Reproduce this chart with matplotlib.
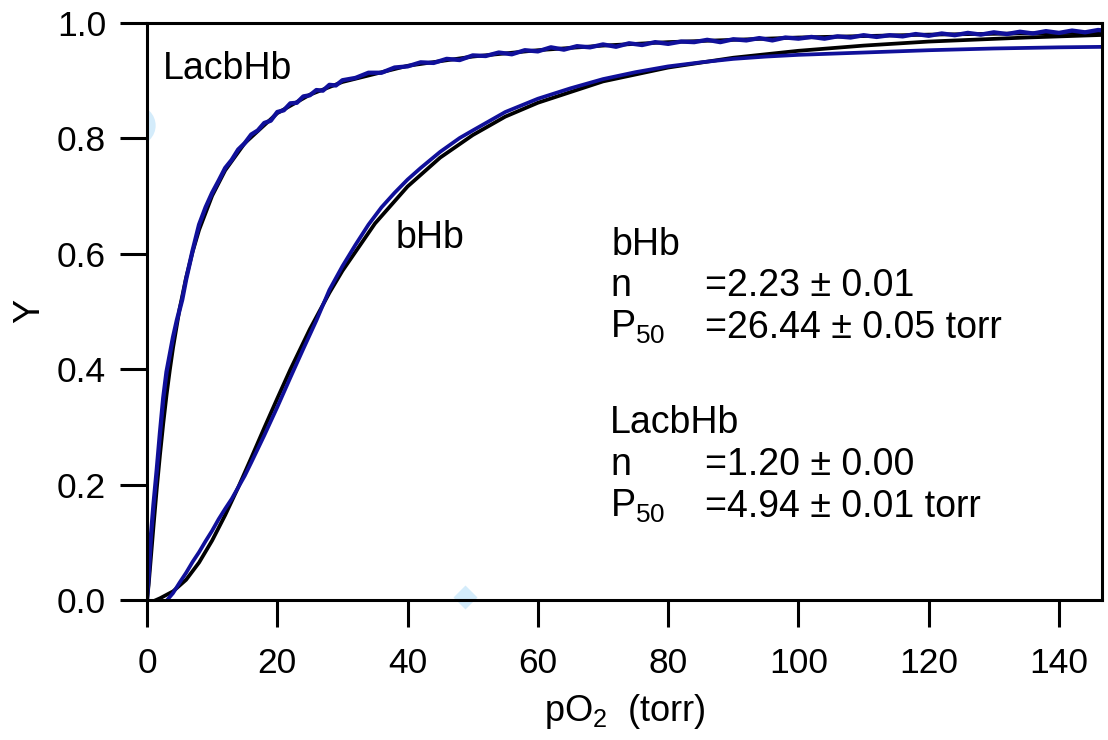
import matplotlib
matplotlib.use("Agg")
import matplotlib.pyplot as plt

plt.rcParams['font.family'] = ['Liberation Sans', 'DejaVu Sans']
plt.rcParams['mathtext.fontset'] = 'custom'
plt.rcParams['mathtext.rm'] = 'Liberation Sans'
plt.rcParams['mathtext.default'] = 'rm'

# ---- data ----
# LacbHb measured curve
lac_x = [0, 0.3, 0.6, 1.0, 1.5, 2.0, 2.5, 3.0, 3.5, 4.0, 4.6, 5.4, 6.0, 7.0, 8.0, 9.0,
         10, 11, 12, 13, 14, 15, 16, 17, 18, 19, 20, 21, 22, 23, 24, 25, 26, 27, 28, 29,
         30, 32, 34, 36, 38, 40, 42, 44, 46, 48, 50, 52, 54, 56, 58, 60, 62, 64, 66, 68,
         70, 72, 74, 76, 78, 80, 82, 84, 86, 88, 90, 92, 94, 96, 98, 100, 102, 104, 106,
         108, 110, 112, 114, 116, 118, 120, 122, 124, 126, 128, 130, 132, 134, 136, 138,
         140, 142, 144, 146, 148]
lac_y = [0, 0.05, 0.11, 0.165, 0.225, 0.29, 0.35, 0.395, 0.425, 0.455, 0.485, 0.52, 0.555,
         0.605, 0.65, 0.68,
         0.705, 0.726, 0.748, 0.762, 0.780, 0.791, 0.806, 0.813, 0.826, 0.830, 0.845, 0.848,
         0.860, 0.861, 0.872, 0.874, 0.883, 0.882, 0.892, 0.891,
         0.900, 0.904, 0.913, 0.913, 0.922, 0.924, 0.931, 0.930, 0.937, 0.935, 0.943, 0.942,
         0.948, 0.945, 0.952, 0.950, 0.957, 0.953, 0.959, 0.957,
         0.962, 0.958, 0.964, 0.961, 0.966, 0.963, 0.967, 0.966, 0.970, 0.966, 0.971, 0.969,
         0.973, 0.969, 0.974, 0.972, 0.975, 0.972, 0.976,
         0.974, 0.978, 0.975, 0.978, 0.976, 0.980, 0.977, 0.981, 0.978, 0.982, 0.979, 0.983,
         0.980, 0.984, 0.981, 0.985,
         0.982, 0.986, 0.983, 0.987, 0.985]

# LacbHb Hill fit (n=1.20, P50=4.94)
lacfit_x = [0, 0.25, 0.5, 0.75, 1, 1.5, 2, 2.5, 3, 3.5, 4, 5, 6, 7, 8, 10, 12, 15, 20, 25,
            30, 40, 50, 60, 70, 80, 100, 120, 148]
lacfit_y = [0, 0.026, 0.060, 0.094, 0.128, 0.193, 0.252, 0.306, 0.355, 0.398, 0.437, 0.504,
            0.558, 0.603, 0.641, 0.700, 0.744, 0.791, 0.843, 0.875, 0.897, 0.925, 0.941,
            0.952, 0.960, 0.966, 0.974, 0.979, 0.983]

# bHb measured curve
bhb_x = [3.1, 4, 5, 6, 7, 8, 9, 10, 11, 12, 13, 14, 15, 16, 18, 20, 22, 24, 26, 28, 30, 32,
         34, 36, 38, 40, 42, 45, 48, 50, 55, 60, 65, 70, 75, 80, 85, 90, 95, 100, 110, 120,
         130, 140, 148]
bhb_y = [0, 0.012, 0.030, 0.047, 0.066, 0.083, 0.102, 0.120, 0.140, 0.158, 0.175, 0.195,
         0.215, 0.238, 0.285, 0.334, 0.385, 0.435, 0.484, 0.537, 0.578, 0.615, 0.650, 0.680,
         0.705, 0.728, 0.748, 0.776, 0.800, 0.813, 0.845, 0.868, 0.886, 0.902, 0.914, 0.924,
         0.931, 0.937, 0.941, 0.944, 0.948, 0.952, 0.955, 0.957, 0.958]

# bHb Hill fit (n=2.23, P50=26.44)
bfit_x = [1.4, 2, 4, 6, 8, 10, 12, 14, 16, 18, 20, 22, 25, 28, 30, 35, 40, 45, 50, 55, 60,
          70, 80, 90, 100, 110, 120, 135, 148]
bfit_y = [0, 0.003, 0.015, 0.035, 0.065, 0.103, 0.147, 0.195, 0.246, 0.298, 0.349, 0.399,
          0.469, 0.532, 0.570, 0.652, 0.716, 0.766, 0.805, 0.837, 0.861, 0.898, 0.922, 0.939,
          0.951, 0.960, 0.967, 0.974, 0.979]

xticks = [0, 20, 40, 60, 80, 100, 120, 140]
yticks = [0.0, 0.2, 0.4, 0.6, 0.8, 1.0]

blue = '#10109a'
pale = '#d4ecfb'

fig = plt.figure(figsize=(11.08, 7.40), dpi=100)
ax = fig.add_axes([147 / 1108, 1 - 600 / 740, (1102 - 147) / 1108, (600 - 22.5) / 740])

# faint markers
ax.plot([-1.84], [0.8225], 'o', ms=29, color=pale, mec='none', zorder=1)
ax.plot([48.74], [0.005], 'D', ms=12, color=pale, mec='none', zorder=1, clip_on=False)

ax.plot(lacfit_x, lacfit_y, color='black', lw=2.7, zorder=3, solid_joinstyle='round')
ax.plot(bfit_x, bfit_y, color='black', lw=2.7, zorder=3, solid_joinstyle='round')
ax.plot(bhb_x, bhb_y, color=blue, lw=2.7, zorder=4, solid_joinstyle='round')
ax.plot(lac_x, lac_y, color=blue, lw=3.1, zorder=4, solid_joinstyle='round')

ax.set_xlim(0, 146.6)
ax.set_ylim(0, 1.0)
ax.set_xticks(xticks)
ax.set_xticklabels([str(t) for t in xticks])
ax.set_yticks(yticks)
ax.set_yticklabels(['%.1f' % t for t in yticks])

for s in ax.spines.values():
    s.set_linewidth(2.2)
    s.set_zorder(5)
ax.tick_params(axis='both', direction='out', length=19.5, width=2.2, labelsize=25.5)
ax.tick_params(axis='x', pad=14)
ax.tick_params(axis='y', pad=10)

ax.set_xlabel(r'pO$_2$  (torr)', fontsize=26, labelpad=9)
ax.set_ylabel('Y', fontsize=26, labelpad=7)

fs = 27
ax.text(2.46, 0.902, 'LacbHb', fontsize=fs, va='baseline', ha='left')
ax.text(38.1, 0.6095, 'bHb', fontsize=fs, va='baseline', ha='left')

xl, xv = 71.1, 85.7
ax.text(xl + 0.2, 0.597, 'bHb', fontsize=fs, va='baseline')
ax.text(xl, 0.526, 'n', fontsize=fs, va='baseline')
ax.text(xv, 0.526, '=2.23 \u00b1 0.01', fontsize=fs, va='baseline')
ax.text(xl, 0.4537, r'P$_{50}$', fontsize=fs, va='baseline')
ax.text(xv, 0.4537, '=26.44 \u00b1 0.05 torr', fontsize=fs, va='baseline')
ax.text(xl, 0.289, 'LacbHb', fontsize=fs, va='baseline')
ax.text(xl, 0.2165, 'n', fontsize=fs, va='baseline')
ax.text(xv, 0.2165, '=1.20 \u00b1 0.00', fontsize=fs, va='baseline')
ax.text(xl, 0.1437, r'P$_{50}$', fontsize=fs, va='baseline')
ax.text(xv, 0.1437, '=4.94 \u00b1 0.01 torr', fontsize=fs, va='baseline')

fig.savefig('out.png', dpi=100)
